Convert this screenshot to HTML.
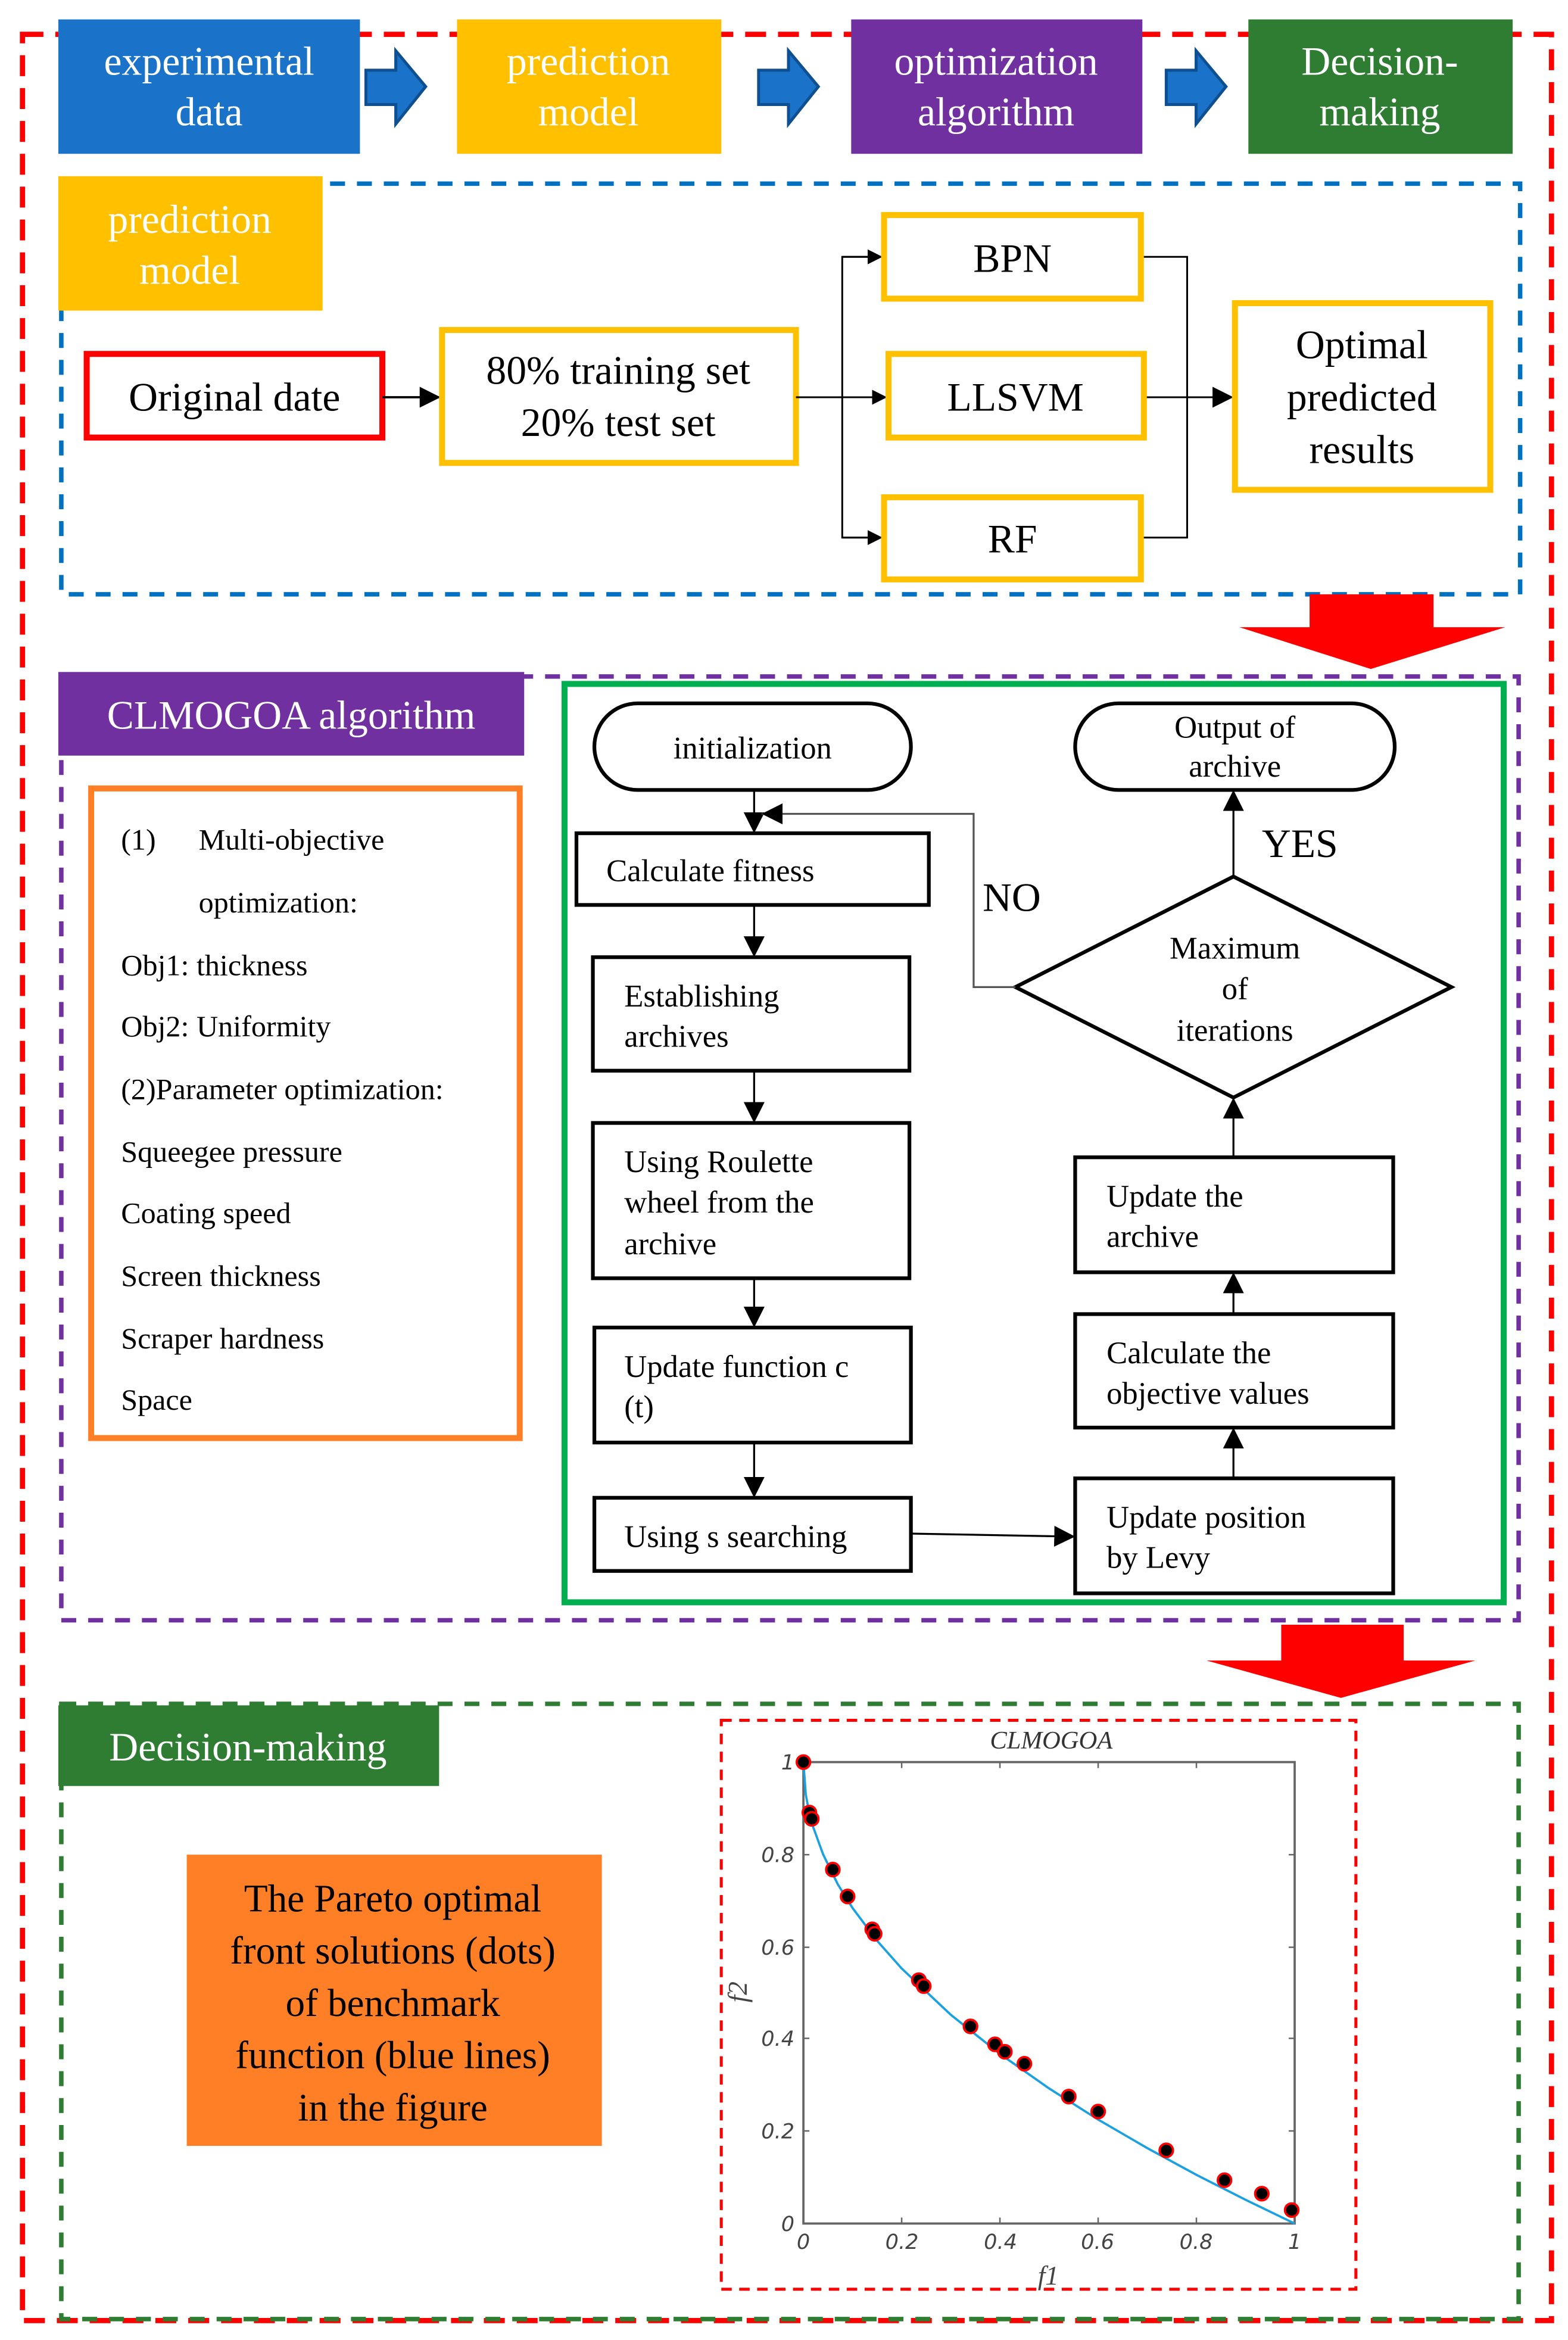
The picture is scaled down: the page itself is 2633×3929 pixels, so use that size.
<!DOCTYPE html>
<html><head><meta charset="utf-8"><style>html,body{margin:0;padding:0;background:#fff}svg{display:block}
svg text{font-family:"Liberation Serif","Times New Roman",serif}
svg text.ax{font-family:"DejaVu Sans","Liberation Sans",sans-serif}</style></head>
<body>
<svg xmlns="http://www.w3.org/2000/svg" width="2633" height="3929" viewBox="0 0 1050 1567">
<defs>
<marker id="a" viewBox="0 0 10 10" refX="10" refY="5" markerWidth="10" markerHeight="10" markerUnits="userSpaceOnUse" orient="auto"><path d="M0,0L10,5L0,10z" fill="#000"/></marker>
<marker id="b" viewBox="0 0 10 10" refX="10" refY="5" markerWidth="14" markerHeight="14" markerUnits="userSpaceOnUse" orient="auto"><path d="M0,0L10,5L0,10z" fill="#000"/></marker>
</defs>
<rect width="1050" height="1567" fill="#fff"/>
<rect x="15" y="23" width="1024" height="1531" fill="none" stroke="#f00" stroke-width="3.5" stroke-dasharray="14,8"/>
<rect x="39" y="13" width="202" height="90" fill="#1a73c8"/>
<text x="140" y="50" fill="#fff" font-size="27" text-anchor="middle">experimental</text><text x="140" y="84" fill="#fff" font-size="27" text-anchor="middle">data</text>
<rect x="306" y="13" width="177" height="90" fill="#ffc000"/>
<text x="394" y="50" fill="#fff" font-size="27" text-anchor="middle">prediction</text><text x="394" y="84" fill="#fff" font-size="27" text-anchor="middle">model</text>
<rect x="570" y="13" width="195" height="90" fill="#7030a0"/>
<text x="667" y="50" fill="#fff" font-size="27" text-anchor="middle">optimization</text><text x="667" y="84" fill="#fff" font-size="27" text-anchor="middle">algorithm</text>
<rect x="836" y="13" width="177" height="90" fill="#2e7d32"/>
<text x="924" y="50" fill="#fff" font-size="27" text-anchor="middle">Decision-</text><text x="924" y="84" fill="#fff" font-size="27" text-anchor="middle">making</text>
<g fill="#1a73c8" stroke="#0d4f91" stroke-width="2">
<path d="M245,47H265V34L285,58L265,83V70H245Z"/>
<path d="M508,47H528V34L548,58L528,83V70H508Z"/>
<path d="M781,47H801V34L821,58L801,83V70H781Z"/>
</g>
<rect x="41" y="123" width="977" height="275" fill="none" stroke="#0070c0" stroke-width="3" stroke-dasharray="10,8"/>
<rect x="39" y="118" width="177" height="90" fill="#ffc000"/>
<text x="127" y="156" fill="#fff" font-size="27" text-anchor="middle">prediction</text><text x="127" y="190" fill="#fff" font-size="27" text-anchor="middle">model</text>
<rect x="58" y="237" width="198" height="56" fill="#fff" stroke="#f00" stroke-width="4"/>
<text x="157" y="275" font-size="27" text-anchor="middle">Original date</text>
<line x1="256" y1="266" x2="295" y2="266" stroke="#000" stroke-width="1.5" marker-end="url(#b)"/>
<rect x="296" y="221" width="237" height="89" fill="#fff" stroke="#ffc000" stroke-width="4"/>
<text x="414" y="257" font-size="27" text-anchor="middle">80% training set</text><text x="414" y="292" font-size="27" text-anchor="middle">20% test set</text>
<g stroke="#000" stroke-width="1.2" fill="none">
<line x1="533" y1="266" x2="594" y2="266" marker-end="url(#a)"/>
<polyline points="591,172 564,172 564,360 591,360"/>
<line x1="564" y1="172" x2="591" y2="172" marker-end="url(#a)"/>
<line x1="564" y1="360" x2="591" y2="360" marker-end="url(#a)"/>
<polyline points="764,172 795,172 795,360 764,360"/>
<line x1="766" y1="266" x2="826" y2="266" marker-end="url(#b)"/>
</g>
<rect x="592" y="144" width="172" height="56" fill="#fff" stroke="#ffc000" stroke-width="4"/>
<text x="678" y="182" font-size="27" text-anchor="middle">BPN</text>
<rect x="595" y="237" width="171" height="56" fill="#fff" stroke="#ffc000" stroke-width="4"/>
<text x="680" y="275" font-size="27" text-anchor="middle">LLSVM</text>
<rect x="592" y="333" width="172" height="55" fill="#fff" stroke="#ffc000" stroke-width="4"/>
<text x="678" y="370" font-size="27" text-anchor="middle">RF</text>
<rect x="827" y="203" width="171" height="125" fill="#fff" stroke="#ffc000" stroke-width="4"/>
<text x="912" y="240" font-size="27" text-anchor="middle">Optimal</text><text x="912" y="275" font-size="27" text-anchor="middle">predicted</text><text x="912" y="310" font-size="27" text-anchor="middle">results</text>
<path d="M877,398H960V420H1008L918,448L830,420H877Z" fill="#f00"/>
<rect x="41" y="453" width="976" height="632" fill="none" stroke="#7030a0" stroke-width="3" stroke-dasharray="10,8"/>
<rect x="39" y="450" width="312" height="56" fill="#7030a0"/>
<text x="195" y="488" fill="#fff" font-size="27" text-anchor="middle">CLMOGOA algorithm</text>
<rect x="61" y="528" width="287" height="435" fill="#fff" stroke="#ff7f27" stroke-width="4"/>
<g font-size="20">
<text x="81" y="569">(1)</text><text x="133" y="569">Multi-objective</text>
<text x="133" y="611">optimization:</text>
<text x="81" y="653">Obj1: thickness</text>
<text x="81" y="694">Obj2: Uniformity</text>
<text x="81" y="736">(2)Parameter optimization:</text>
<text x="81" y="778">Squeegee pressure</text>
<text x="81" y="819">Coating speed</text>
<text x="81" y="861">Screen thickness</text>
<text x="81" y="903">Scraper hardness</text>
<text x="81" y="944">Space</text>
</g>
<rect x="378" y="458" width="629" height="615" fill="#fff" stroke="#00b050" stroke-width="4"/>
<g fill="#fff" stroke="#000" stroke-width="2.5">
<rect x="398" y="471" width="212" height="58" rx="29"/>
<rect x="720" y="471" width="214" height="58" rx="29"/>
<rect x="386" y="558" width="236" height="48"/>
<rect x="397" y="641" width="212" height="76"/>
<rect x="397" y="752" width="212" height="104"/>
<rect x="398" y="889" width="212" height="77"/>
<rect x="398" y="1003" width="212" height="49"/>
<rect x="720" y="990" width="213" height="77"/>
<rect x="720" y="880" width="213" height="76"/>
<rect x="720" y="775" width="213" height="77"/>
<polygon points="680,661 826,587 972,661 826,735"/>
</g>
<g stroke="#000" stroke-width="1.3" fill="none">
<line x1="505" y1="529" x2="505" y2="558" marker-end="url(#b)"/>
<polyline points="680,661 652,661 652,545 510,545" stroke="#555" marker-end="url(#b)"/>
<line x1="505" y1="606" x2="505" y2="641" marker-end="url(#b)"/>
<line x1="505" y1="717" x2="505" y2="752" marker-end="url(#b)"/>
<line x1="505" y1="856" x2="505" y2="889" marker-end="url(#b)"/>
<line x1="505" y1="966" x2="505" y2="1003" marker-end="url(#b)"/>
<line x1="610" y1="1027" x2="720" y2="1029" marker-end="url(#b)"/>
<line x1="826" y1="990" x2="826" y2="956" marker-end="url(#b)"/>
<line x1="826" y1="880" x2="826" y2="852" marker-end="url(#b)"/>
<line x1="826" y1="775" x2="826" y2="735" marker-end="url(#b)"/>
<line x1="826" y1="587" x2="826" y2="529" marker-end="url(#b)"/>
</g>
<g font-size="21">
<text x="504" y="508" text-anchor="middle">initialization</text>
<text x="827" y="494" text-anchor="middle">Output of</text><text x="827" y="520" text-anchor="middle">archive</text>
<text x="406" y="590">Calculate fitness</text>
<text x="418" y="674">Establishing</text><text x="418" y="701">archives</text>
<text x="418" y="785">Using Roulette</text><text x="418" y="812">wheel from the</text><text x="418" y="840">archive</text>
<text x="418" y="922">Update function c</text><text x="418" y="949">(t)</text>
<text x="418" y="1036">Using s searching</text>
<text x="741" y="1023">Update position</text><text x="741" y="1050">by Levy</text>
<text x="741" y="913">Calculate the</text><text x="741" y="940">objective values</text>
<text x="741" y="808">Update the</text><text x="741" y="835">archive</text>
<text x="827" y="642" text-anchor="middle">Maximum</text><text x="827" y="669" text-anchor="middle">of</text><text x="827" y="697" text-anchor="middle">iterations</text>
</g>
<text x="845" y="574" font-size="27">YES</text>
<text x="658" y="610" font-size="27">NO</text>
<path d="M858,1088H940V1112H988L898,1137L808,1112H858Z" fill="#f00"/>
<rect x="41" y="1141" width="976" height="412" fill="none" stroke="#2e7d32" stroke-width="3" stroke-dasharray="10,8"/>
<rect x="39" y="1142" width="255" height="54" fill="#2e7d32"/>
<text x="166" y="1179" fill="#fff" font-size="27" text-anchor="middle">Decision-making</text>
<rect x="125" y="1242" width="278" height="195" fill="#ff7f27"/>
<g font-size="26" text-anchor="middle">
<text x="263" y="1280">The Pareto optimal</text>
<text x="263" y="1315">front solutions (dots)</text>
<text x="263" y="1350">of  benchmark</text>
<text x="263" y="1385">function (blue lines)</text>
<text x="263" y="1420">in the figure</text>
</g>
<rect x="483" y="1152" width="425" height="381" fill="none" stroke="#f00" stroke-width="2" stroke-dasharray="7,5"/>
<rect x="538" y="1180" width="329" height="309" fill="none" stroke="#666" stroke-width="1.5"/>
<g stroke="#666" stroke-width="1">
<line x1="603.8" y1="1489" x2="603.8" y2="1485"/><line x1="669.6" y1="1489" x2="669.6" y2="1485"/><line x1="735.4" y1="1489" x2="735.4" y2="1485"/><line x1="801.2" y1="1489" x2="801.2" y2="1485"/>
<line x1="603.8" y1="1180" x2="603.8" y2="1184"/><line x1="669.6" y1="1180" x2="669.6" y2="1184"/><line x1="735.4" y1="1180" x2="735.4" y2="1184"/><line x1="801.2" y1="1180" x2="801.2" y2="1184"/>
<line x1="538" y1="1427" x2="542" y2="1427"/><line x1="538" y1="1365" x2="542" y2="1365"/><line x1="538" y1="1304" x2="542" y2="1304"/><line x1="538" y1="1242" x2="542" y2="1242"/>
<line x1="867" y1="1427" x2="863" y2="1427"/><line x1="867" y1="1365" x2="863" y2="1365"/><line x1="867" y1="1304" x2="863" y2="1304"/><line x1="867" y1="1242" x2="863" y2="1242"/>
</g>
<g font-size="14" font-style="italic" fill="#444">
<text class="ax" x="538" y="1506" text-anchor="middle">0</text><text class="ax" x="604" y="1506" text-anchor="middle">0.2</text><text class="ax" x="670" y="1506" text-anchor="middle">0.4</text><text class="ax" x="735" y="1506" text-anchor="middle">0.6</text><text class="ax" x="801" y="1506" text-anchor="middle">0.8</text><text class="ax" x="867" y="1506" text-anchor="middle">1</text>
<text class="ax" x="532" y="1494" text-anchor="end">0</text><text class="ax" x="532" y="1432" text-anchor="end">0.2</text><text class="ax" x="532" y="1370" text-anchor="end">0.4</text><text class="ax" x="532" y="1309" text-anchor="end">0.6</text><text class="ax" x="532" y="1247" text-anchor="end">0.8</text><text class="ax" x="532" y="1185" text-anchor="end">1</text>
</g>
<text x="704" y="1171" font-size="17" font-style="italic" text-anchor="middle" fill="#333">CLMOGOA</text>
<text x="702" y="1530" font-size="18" font-style="italic" text-anchor="middle" fill="#444">f1</text>
<text x="0" y="0" font-size="18" font-style="italic" text-anchor="middle" fill="#444" transform="translate(500,1334) rotate(-90)">f2</text>
<polyline fill="none" stroke="#1ba1e2" stroke-width="1.5" points="538,1180 539.6,1201.8 541.3,1210.9 544.6,1223.7 551.2,1241.8 561,1261.8 570.9,1277.7 587.4,1299.7 603.8,1318.2 636.7,1349.2 669.6,1375.4 702.5,1398.5 735.4,1419.4 768.3,1438.5 801.2,1456.4 834.1,1473.1 867,1489"/>
<g fill="#000" stroke="#f00" stroke-width="1.5">
<circle cx="538" cy="1180" r="4.5"/><circle cx="542" cy="1213.8" r="4.5"/><circle cx="543.6" cy="1218" r="4.5"/><circle cx="557.7" cy="1252" r="4.5"/><circle cx="567.6" cy="1270" r="4.5"/><circle cx="584.1" cy="1292" r="4.5"/><circle cx="585.7" cy="1295" r="4.5"/><circle cx="615.3" cy="1326" r="4.5"/><circle cx="618.6" cy="1330" r="4.5"/><circle cx="649.9" cy="1357" r="4.5"/><circle cx="666.3" cy="1369" r="4.5"/><circle cx="672.9" cy="1374" r="4.5"/><circle cx="686" cy="1382" r="4.5"/><circle cx="715.7" cy="1404" r="4.5"/><circle cx="735.4" cy="1414" r="4.5"/><circle cx="781" cy="1440" r="4.5"/><circle cx="820" cy="1460" r="4.5"/><circle cx="845" cy="1469" r="4.5"/><circle cx="865" cy="1480" r="4.5"/>
</g>
</svg>
</body></html>
